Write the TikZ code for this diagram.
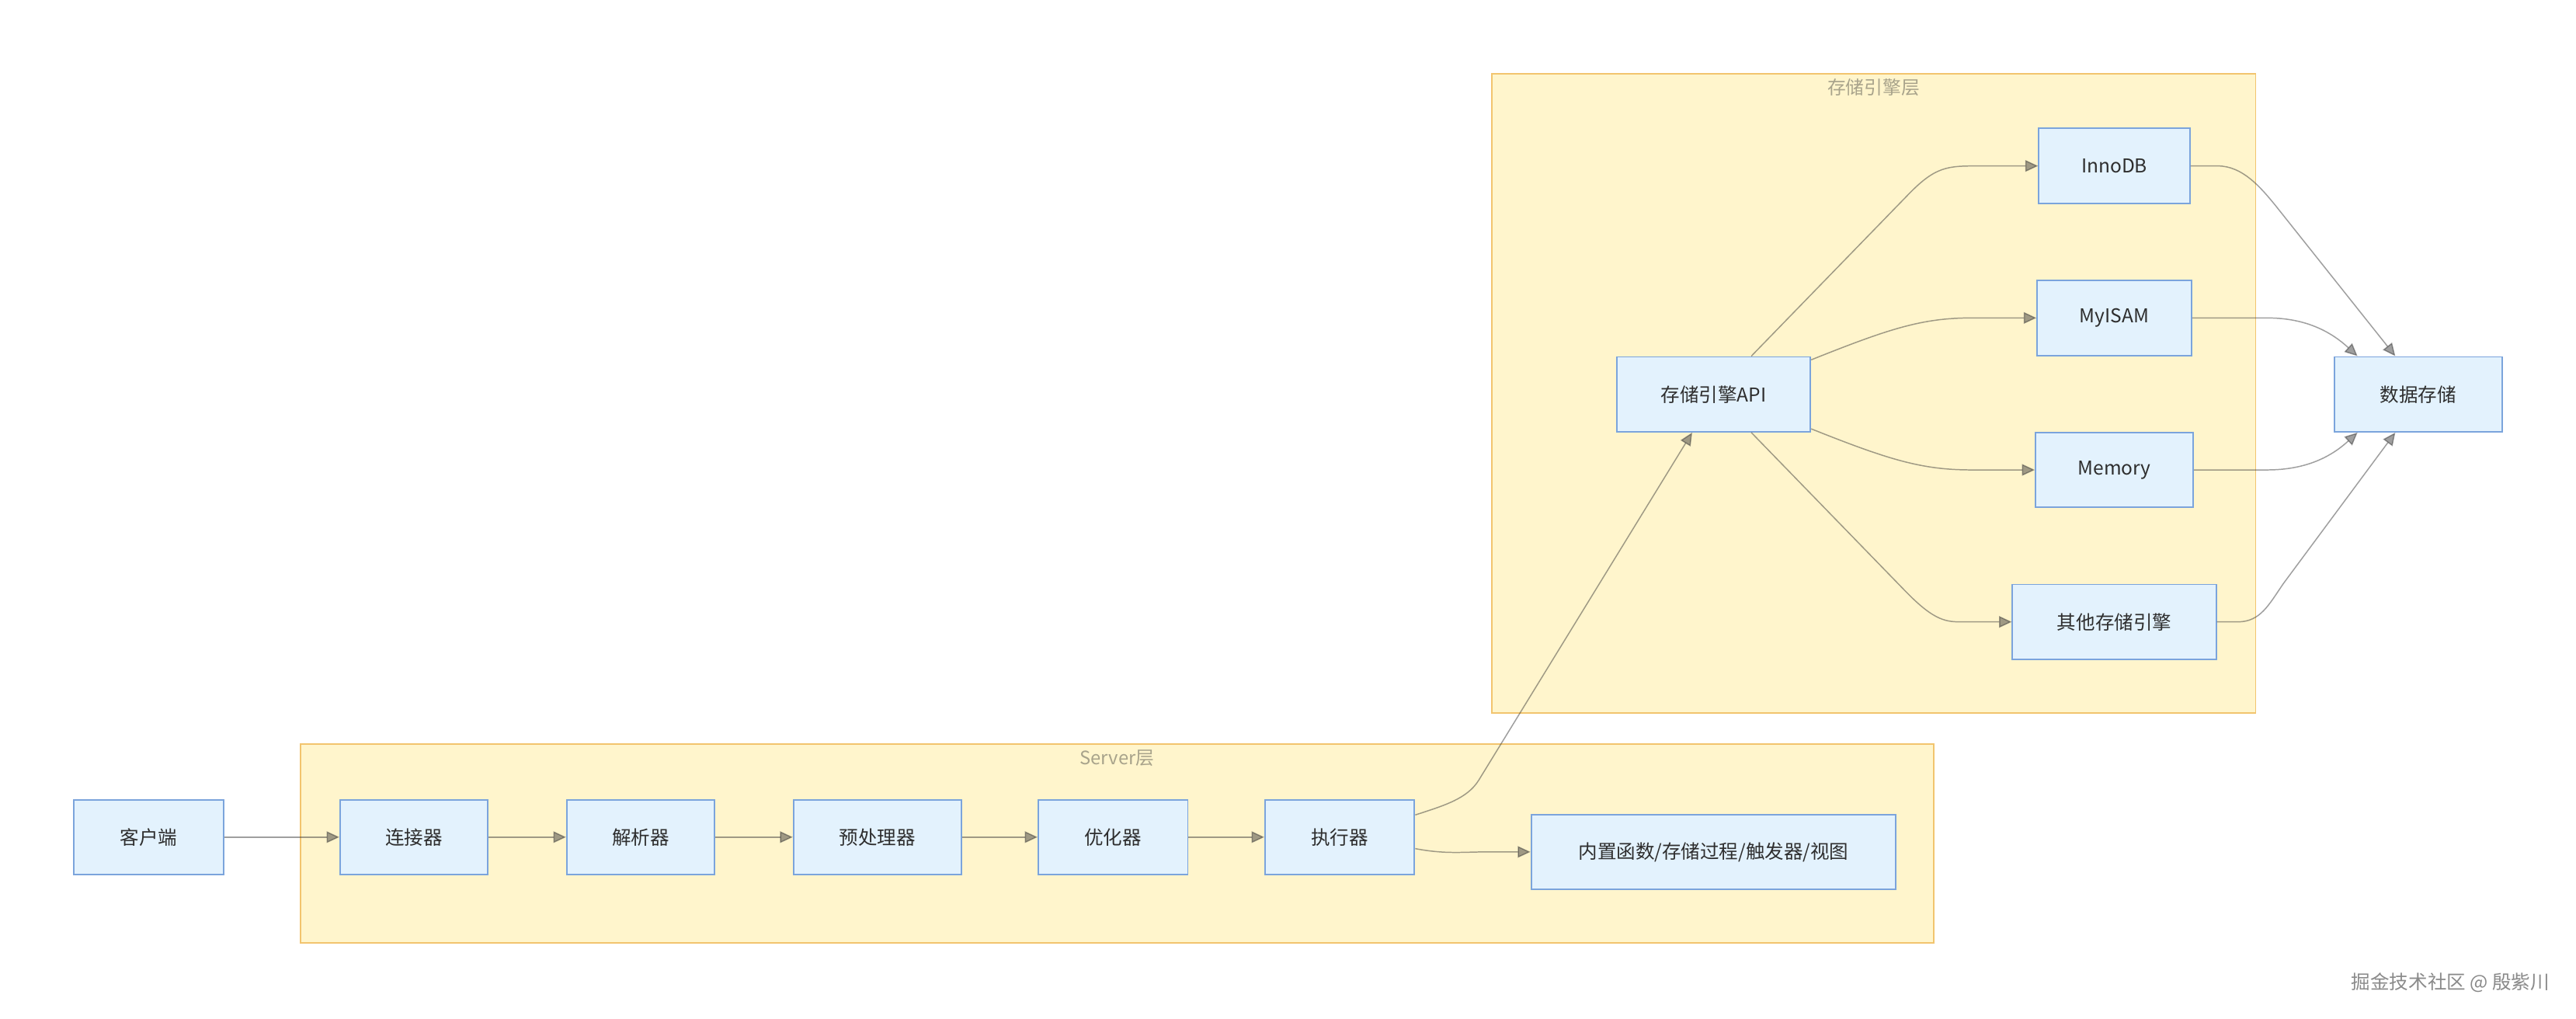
\documentclass[tikz,border=0pt]{standalone}
\usepackage{fontspec}
\setmainfont{Noto Sans CJK SC}
\usetikzlibrary{arrows.meta,calc}
\definecolor{nodefill}{HTML}{E3F2FD}
\definecolor{nodeline}{HTML}{7BA4DC}
\definecolor{clfill}{HTML}{FFF5CC}
\definecolor{clline}{HTML}{F2C46E}
\definecolor{edgecol}{HTML}{333333}
\definecolor{titlecol}{HTML}{A8A38B}
\definecolor{wmcol}{HTML}{8A8A8A}
\begin{document}
\begin{tikzpicture}[x=0.05cm,y=-0.05cm,
 box/.style={draw=nodeline,fill=nodefill,line width=1.3pt,minimum height=2.28cm,inner sep=0pt,
   font=\fontsize{16.5}{19}\selectfont,text=black!82},
 cluster/.style={draw=clline,fill=clfill,line width=1.2pt,inner sep=0pt},
 cltitle/.style={inner sep=0pt,text=titlecol,font=\fontsize{16}{19}\selectfont},
 edge/.style={draw=edgecol,opacity=0.47,line width=1pt,-{Triangle[length=11pt,width=10pt]}}
]
\useasboundingbox (0,0) rectangle (1568,620);
\fill[white] (0,0) rectangle (1568,620);

% clusters
\node[cluster,minimum width=23.25cm,minimum height=19.45cm] (storage) at (1140.5,239.5) {};
\node[cltitle] (storagetitle) at (1140.5,53) {存储引擎层};
\node[cluster,minimum width=49.7cm,minimum height=6.05cm] (server) at (680,513.5) {};
\node[cltitle] (servertitle) at (680,461.5) {Server层};

% nodes
\node[box,minimum width=4.55cm] (client) at (90.5,509.5) {客户端};
\node[box,minimum width=4.5cm] (conn) at (252,509.5) {连接器};
\node[box,minimum width=4.5cm] (parser) at (390,509.5) {解析器};
\node[box,minimum width=5.1cm] (pre) at (534,509.5) {预处理器};
\node[box,minimum width=4.55cm] (opt) at (677.5,509.5) {优化器};
\node[box,minimum width=4.55cm] (exec) at (815.5,509.5) {执行器};
\node[box,minimum width=11.1cm] (builtin) at (1043,518.5) {内置函数/存储过程/触发器/视图};
\node[box,minimum width=5.9cm] (api) at (1043,240) {存储引擎API};
\node[box,minimum width=4.6cm] (innodb) at (1287,101) {InnoDB};
\node[box,minimum width=4.7cm] (myisam) at (1287,193.5) {MyISAM};
\node[box,minimum width=4.8cm] (memory) at (1287,286) {Memory};
\node[box,minimum width=6.2cm] (other) at (1287,378.5) {其他存储引擎};
\node[box,minimum width=5.1cm] (data) at (1472,240) {数据存储};

% straight edges
\draw[edge] (client) -- (conn);
\draw[edge] (conn) -- (parser);
\draw[edge] (parser) -- (pre);
\draw[edge] (pre) -- (opt);
\draw[edge] (opt) -- (exec);

% executor edges
\draw[edge] ($(exec.east)+(0,7)$) .. controls (880,520) and (890,518.5) .. (905,518.5) -- (builtin.west);
\draw[edge] ($(exec.east)+(0,-13.5)$) .. controls (880,490) and (893,486) .. (900,475) -- ($(api.south)+(-13,0)$);

% api to engines
\draw[edge] ($(api.north)+(23,0)$) -- (1160,120) .. controls (1178,101) and (1185,101) .. (1205,101) -- (innodb.west);
\draw[edge] ($(api.east)+(0,-21)$) .. controls (1150,200) and (1170,193.5) .. (1200,193.5) -- (myisam.west);
\draw[edge] ($(api.east)+(0,21)$) .. controls (1150,280) and (1170,286) .. (1200,286) -- (memory.west);
\draw[edge] ($(api.south)+(23,0)$) -- (1160,360) .. controls (1178,378.5) and (1185,378.5) .. (1195,378.5) -- (other.west);

% engines to data storage
\draw[edge] (innodb.east) -- (1350,101) .. controls (1365,101) and (1376,114) .. (1385,125) -- ($(data.north)+(-14,0)$);
\draw[edge] (myisam.east) -- (1380,193.5) .. controls (1405,193.5) and (1420,203) .. ($(data.north)+(-37,0)$);
\draw[edge] (memory.east) -- (1380,286) .. controls (1405,286) and (1420,277) .. ($(data.south)+(-37,0)$);
\draw[edge] (other.east) -- (1362,378.5) .. controls (1376,378.5) and (1381,368) .. (1390,355) -- ($(data.south)+(-14,0)$);

% watermark
\node[anchor=east,inner sep=0pt,text=wmcol,font=\fontsize{16.5}{19}\selectfont] (wm) at (1552,598) {掘金技术社区 @ 殷紫川};
\end{tikzpicture}
\end{document}
